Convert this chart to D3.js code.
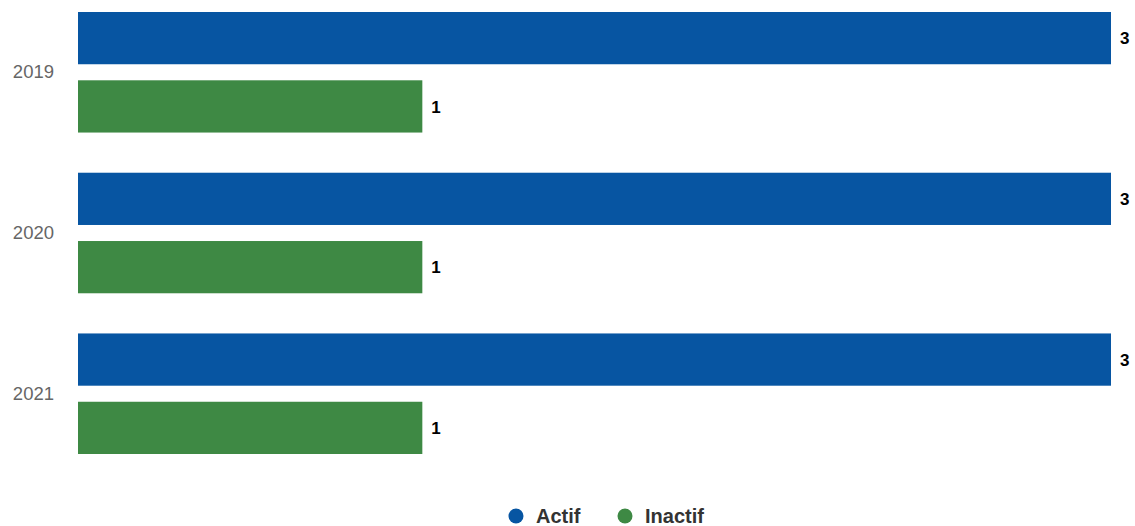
<!DOCTYPE html>
<html>
<head>
    <meta charset="utf-8">
    <script src="https://d3js.org/d3.v7.min.js"></script>
    <style>
        body { margin: 0; background: #fff; }
        svg { display: block; font-family: "Liberation Sans", Arial, sans-serif; }
    </style>
</head>
<body>
<script>
    var years = ["2019", "2020", "2021"];
    var seriesNames = ["Actif", "Inactif"];
    var actif = [3, 3, 3];
    var inactif = [1, 1, 1];
    var colors = ["#0755a2", "#3e8944"];

    var width = 1135,
        height = 526;

    var rows = years.map(function(y, i) {
        return {year: y, values: [actif[i], inactif[i]]};
    });

    var svg = d3.select("body").append("svg")
        .attr("width", width)
        .attr("height", height);

    var x = d3.scaleLinear().domain([0, 3]).range([78, 1111]);

    var y0 = d3.scaleBand().domain(years)
        .range([12, 454]).paddingInner(0.25).paddingOuter(0);

    var y1 = d3.scaleBand().domain(seriesNames)
        .range([0, y0.bandwidth()]).paddingInner(0.235);

    var yAxis = svg.append("g")
        .attr("transform", "translate(54,0)")
        .call(d3.axisLeft(y0).tickSize(0).tickPadding(0));
    yAxis.select(".domain").remove();
    yAxis.selectAll("text")
        .attr("font-family", "Liberation Sans, Arial, sans-serif")
        .attr("font-size", 18.5)
        .attr("fill", "#666");

    var groups = svg.append("g").selectAll("g")
        .data(rows)
        .enter().append("g")
        .attr("transform", function(d) { return "translate(0," + y0(d.year) + ")"; });

    var cells = groups.selectAll("g")
        .data(function(d) {
            return d.values.map(function(v, i) { return {name: seriesNames[i], value: v, i: i}; });
        })
        .enter().append("g");

    cells.append("rect")
        .attr("x", x(0))
        .attr("y", function(d) { return y1(d.name); })
        .attr("width", function(d) { return x(d.value) - x(0); })
        .attr("height", y1.bandwidth())
        .attr("fill", function(d) { return colors[d.i]; });

    cells.append("text")
        .attr("x", function(d) { return x(d.value) + 9; })
        .attr("y", function(d) { return y1(d.name) + y1.bandwidth() / 2; })
        .attr("dy", "0.36em")
        .attr("font-size", 17)
        .attr("font-weight", "bold")
        .attr("fill", "#000")
        .text(function(d) { return d.value; });

    // legend
    var legendX = [516, 625];
    var legend = svg.append("g").selectAll("g")
        .data(seriesNames)
        .enter().append("g")
        .attr("transform", function(d, i) { return "translate(" + legendX[i] + ",516)"; });

    legend.append("circle")
        .attr("r", 7.5)
        .attr("fill", function(d, i) { return colors[i]; });

    legend.append("text")
        .attr("x", 20)
        .attr("dy", "0.36em")
        .attr("font-size", 20)
        .attr("font-weight", "bold")
        .attr("fill", "#333")
        .text(function(d) { return d; });
</script>
</body>
</html>
